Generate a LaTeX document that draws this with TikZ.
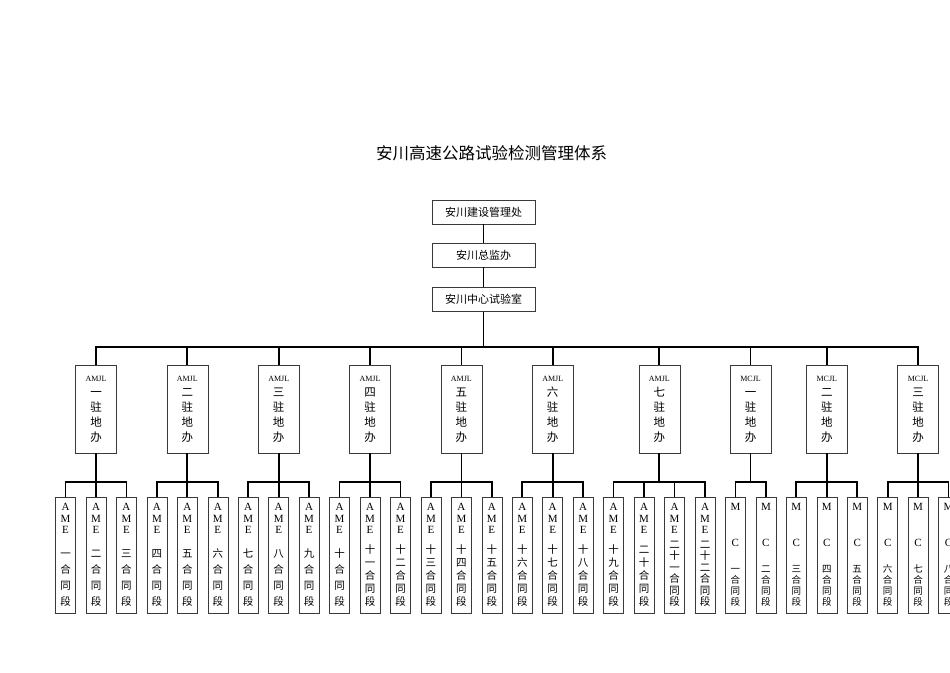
\documentclass[tikz,border=0pt]{standalone}
\usepackage{fontspec}
\setmainfont{Liberation Serif}
\newfontfamily\cjk{Noto Sans CJK SC}
\definecolor{boxline}{HTML}{3A3A3A}
\definecolor{linkline}{HTML}{000000}

% text of the narrow contract-section boxes
\newcommand{\ametext}[2]{\parbox[c][102pt][s]{20pt}{\centering
  \fontsize{11}{11.2}\selectfont A\\M\\E\par\vfill
  {\cjk\fontsize{10.5}{#1}\selectfont #2\par}}}
\newcommand{\mctext}[1]{\parbox[c][102pt][s]{20pt}{\centering
  \fontsize{11}{11.2}\selectfont M\par\vspace{24pt}C\par\vfill
  {\cjk\fontsize{9.5}{11}\selectfont #1\par}}}
\newcommand{\lab}[1]{{\rmfamily\fontsize{8}{8}\selectfont #1}}

\tikzset{
  office/.style={draw=boxline, line width=0.6pt, minimum width=103,
    minimum height=24, inner sep=0pt, font=\cjk\fontsize{11}{13}\selectfont},
  station/.style={draw=boxline, line width=0.6pt, minimum width=41,
    minimum height=88, inner sep=0pt, align=center,
    font=\cjk\fontsize{11.5}{15}\selectfont},
  segment/.style={draw=boxline, line width=0.6pt, minimum width=20,
    minimum height=116, inner sep=0pt},
  link/.style={draw=linkline, line width=1.7pt},
}

\begin{document}
\begin{tikzpicture}[x=1pt, y=-1pt]

% Page frame (pixel grid of the sheet, y downwards)
\useasboundingbox (0,0) rectangle (950,672);
\clip (0,0) rectangle (950,672);

% Title
\node[font=\cjk\fontsize{16.5}{18}\selectfont] (title) at (491.5,153)
  {安川高速公路试验检测管理体系};

% Head offices
\node[office] (top1) at (483.5,212) {安川建设管理处};
\node[office] (top2) at (483.5,255) {安川总监办};
\node[office] (top3) at (483.5,299.5) {安川中心试验室};

% Resident offices
\node[station] (mid1) at (96,409) {\lab{AMJL}\\一\\驻\\地\\办};
\node[station] (mid2) at (187.3,409) {\lab{AMJL}\\二\\驻\\地\\办};
\node[station] (mid3) at (278.7,409) {\lab{AMJL}\\三\\驻\\地\\办};
\node[station] (mid4) at (370,409) {\lab{AMJL}\\四\\驻\\地\\办};
\node[station] (mid5) at (461.4,409) {\lab{AMJL}\\五\\驻\\地\\办};
\node[station] (mid6) at (552.7,409) {\lab{AMJL}\\六\\驻\\地\\办};
\node[station] (mid7) at (659.3,409) {\lab{AMJL}\\七\\驻\\地\\办};
\node[station] (mid8) at (750.6,409) {\lab{MCJL}\\一\\驻\\地\\办};
\node[station] (mid9) at (826.8,409) {\lab{MCJL}\\二\\驻\\地\\办};
\node[station] (mid10) at (918.1,409) {\lab{MCJL}\\三\\驻\\地\\办};

% Contract sections, pitch 30.45
\node[segment] (seg1) at (65.5,555) {\ametext{16}{一\\合\\同\\段}};
\node[segment] (seg2) at (96,555) {\ametext{16}{二\\合\\同\\段}};
\node[segment] (seg3) at (126.4,555) {\ametext{16}{三\\合\\同\\段}};
\node[segment] (seg4) at (156.9,555) {\ametext{16}{四\\合\\同\\段}};
\node[segment] (seg5) at (187.3,555) {\ametext{16}{五\\合\\同\\段}};
\node[segment] (seg6) at (217.8,555) {\ametext{16}{六\\合\\同\\段}};
\node[segment] (seg7) at (248.2,555) {\ametext{16}{七\\合\\同\\段}};
\node[segment] (seg8) at (278.7,555) {\ametext{16}{八\\合\\同\\段}};
\node[segment] (seg9) at (309.1,555) {\ametext{16}{九\\合\\同\\段}};
\node[segment] (seg10) at (339.6,555) {\ametext{16}{十\\合\\同\\段}};
\node[segment] (seg11) at (370,555) {\ametext{13}{十\\一\\合\\同\\段}};
\node[segment] (seg12) at (400.5,555) {\ametext{13}{十\\二\\合\\同\\段}};
\node[segment] (seg13) at (430.9,555) {\ametext{13}{十\\三\\合\\同\\段}};
\node[segment] (seg14) at (461.4,555) {\ametext{13}{十\\四\\合\\同\\段}};
\node[segment] (seg15) at (491.8,555) {\ametext{13}{十\\五\\合\\同\\段}};
\node[segment] (seg16) at (522.3,555) {\ametext{13}{十\\六\\合\\同\\段}};
\node[segment] (seg17) at (552.7,555) {\ametext{13}{十\\七\\合\\同\\段}};
\node[segment] (seg18) at (583.2,555) {\ametext{13}{十\\八\\合\\同\\段}};
\node[segment] (seg19) at (613.6,555) {\ametext{13}{十\\九\\合\\同\\段}};
\node[segment] (seg20) at (644.1,555) {\ametext{13}{二\\十\\合\\同\\段}};
\node[segment] (seg21) at (674.5,555) {\ametext{11.5}{二\\十\\一\\合\\同\\段}};
\node[segment] (seg22) at (705,555) {\ametext{11.5}{二\\十\\二\\合\\同\\段}};
\node[segment] (seg23) at (735.4,555) {\mctext{一\\合\\同\\段}};
\node[segment] (seg24) at (765.9,555) {\mctext{二\\合\\同\\段}};
\node[segment] (seg25) at (796.3,555) {\mctext{三\\合\\同\\段}};
\node[segment] (seg26) at (826.8,555) {\mctext{四\\合\\同\\段}};
\node[segment] (seg27) at (857.2,555) {\mctext{五\\合\\同\\段}};
\node[segment] (seg28) at (887.7,555) {\mctext{六\\合\\同\\段}};
\node[segment] (seg29) at (918.1,555) {\mctext{七\\合\\同\\段}};
\node[segment] (seg30) at (948.6,555) {\mctext{八\\合\\同\\段}};

% Bus levels
\coordinate (bus) at (0,347);
\coordinate (twig) at (0,482);

% Head chain
\draw[link] (top1) -- (top2);
\draw[link] (top2) -- (top3);
\draw[link] (top3.south) -- (top3.south |- bus);

% Main bus to the resident offices
\draw[link] (mid1.north) -- (mid1.north |- bus) -- (mid10.north |- bus) -- (mid10.north);
\draw[link] (mid2.north |- bus) -- (mid2.north);
\draw[link] (mid3.north |- bus) -- (mid3.north);
\draw[link] (mid4.north |- bus) -- (mid4.north);
\draw[link] (mid5.north |- bus) -- (mid5.north);
\draw[link] (mid6.north |- bus) -- (mid6.north);
\draw[link] (mid7.north |- bus) -- (mid7.north);
\draw[link] (mid8.north |- bus) -- (mid8.north);
\draw[link] (mid9.north |- bus) -- (mid9.north);

% Group 1
\draw[link] (mid1.south) -- (mid1.south |- twig);
\draw[link] (seg1.north) -- (seg1.north |- twig) -- (seg3.north |- twig) -- (seg3.north);
\draw[link] (seg2.north |- twig) -- (seg2.north);
% Group 2
\draw[link] (mid2.south) -- (mid2.south |- twig);
\draw[link] (seg4.north) -- (seg4.north |- twig) -- (seg6.north |- twig) -- (seg6.north);
\draw[link] (seg5.north |- twig) -- (seg5.north);
% Group 3
\draw[link] (mid3.south) -- (mid3.south |- twig);
\draw[link] (seg7.north) -- (seg7.north |- twig) -- (seg9.north |- twig) -- (seg9.north);
\draw[link] (seg8.north |- twig) -- (seg8.north);
% Group 4
\draw[link] (mid4.south) -- (mid4.south |- twig);
\draw[link] (seg10.north) -- (seg10.north |- twig) -- (seg12.north |- twig) -- (seg12.north);
\draw[link] (seg11.north |- twig) -- (seg11.north);
% Group 5
\draw[link] (mid5.south) -- (mid5.south |- twig);
\draw[link] (seg13.north) -- (seg13.north |- twig) -- (seg15.north |- twig) -- (seg15.north);
\draw[link] (seg14.north |- twig) -- (seg14.north);
% Group 6
\draw[link] (mid6.south) -- (mid6.south |- twig);
\draw[link] (seg16.north) -- (seg16.north |- twig) -- (seg18.north |- twig) -- (seg18.north);
\draw[link] (seg17.north |- twig) -- (seg17.north);
% Group 7
\draw[link] (mid7.south) -- (mid7.south |- twig);
\draw[link] (seg19.north) -- (seg19.north |- twig) -- (seg22.north |- twig) -- (seg22.north);
\draw[link] (seg20.north |- twig) -- (seg20.north);
\draw[link] (seg21.north |- twig) -- (seg21.north);
% Group 8
\draw[link] (mid8.south) -- (mid8.south |- twig);
\draw[link] (seg23.north) -- (seg23.north |- twig) -- (seg24.north |- twig) -- (seg24.north);
% Group 9
\draw[link] (mid9.south) -- (mid9.south |- twig);
\draw[link] (seg25.north) -- (seg25.north |- twig) -- (seg27.north |- twig) -- (seg27.north);
\draw[link] (seg26.north |- twig) -- (seg26.north);
% Group 10
\draw[link] (mid10.south) -- (mid10.south |- twig);
\draw[link] (seg28.north) -- (seg28.north |- twig) -- (seg30.north |- twig) -- (seg30.north);
\draw[link] (seg29.north |- twig) -- (seg29.north);

\end{tikzpicture}
\end{document}
